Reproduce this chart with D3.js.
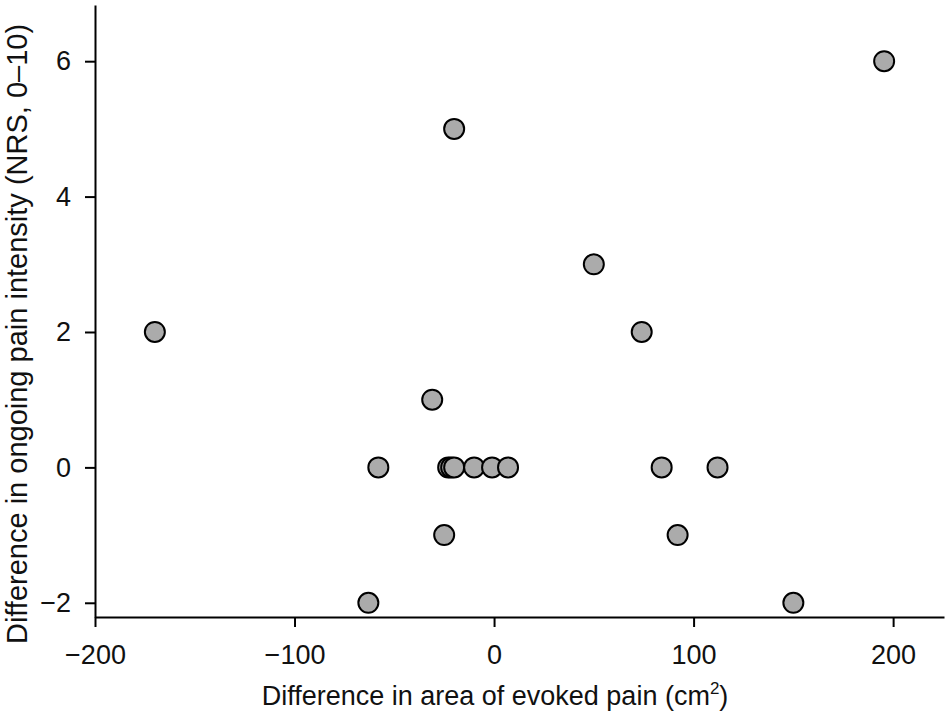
<!DOCTYPE html>
<html>
<head>
<meta charset="utf-8">
<script src="https://cdn.jsdelivr.net/npm/d3@7"></script>
<style>
  body { margin: 0; background: #fff; }
  svg { font-family: "Liberation Sans", Arial, sans-serif; }
</style>
</head>
<body>
<svg width="946" height="727"></svg>
<script>
// area difference (cm2) and ongoing pain difference (NRS)
var areaDiff = [-170, -63, -58, -31, -25, -23, -21.5, -20, -20, -10, -1, 7, 50, 74, 84, 92, 112, 150, 195.5];
var painDiff = [2, -2, 0, 1, -1, 0, 0, 0, 5, 0, 0, 0, 3, 2, 0, -1, 0, -2, 6];
var xTicks = [-200, -100, 0, 100, 200];
var yTicks = [-2, 0, 2, 4, 6];

var svg = d3.select("svg");

var x = d3.scaleLinear().domain([-200, 225.5]).range([95, 944]);
var y = d3.scaleLinear().domain([-2.21, 6.83]).range([617, 5]);

var xAxis = svg.append("g")
    .attr("transform", "translate(0,617)")
    .call(d3.axisBottom(x).tickValues(xTicks).tickSize(10).tickPadding(18).tickSizeOuter(0));
var yAxis = svg.append("g")
    .attr("transform", "translate(95,0)")
    .call(d3.axisLeft(y).tickValues(yTicks).tickSize(10).tickPadding(14).tickSizeOuter(0));

[xAxis, yAxis].forEach(function(g) {
    g.select(".domain").attr("stroke", "#000").attr("stroke-width", 2);
    g.selectAll(".tick line").attr("stroke", "#000").attr("stroke-width", 2);
    g.selectAll(".tick text")
        .attr("font-family", "Liberation Sans, Arial, sans-serif")
        .attr("font-size", 27)
        .attr("fill", "#111");
});

var pts = areaDiff.map(function(d, i) { return { a: d, p: painDiff[i] }; });

svg.append("g")
    .selectAll("circle")
    .data(pts)
    .enter()
    .append("circle")
    .attr("cx", function(d) { return x(d.a); })
    .attr("cy", function(d) { return y(d.p); })
    .attr("r", 10)
    .style("fill", "#ababab")
    .style("stroke", "#000")
    .style("stroke-width", 2);

var xt = svg.append("text")
    .attr("x", 495)
    .attr("y", 705)
    .attr("text-anchor", "middle")
    .attr("font-size", 27)
    .attr("fill", "#111");
xt.append("tspan").text("Difference in area of evoked pain (cm");
xt.append("tspan").attr("font-size", 17).attr("dy", -11).text("2");
xt.append("tspan").attr("dy", 11).text(")");

svg.append("text")
    .attr("transform", "translate(27,334) rotate(-90)")
    .attr("text-anchor", "middle")
    .attr("font-size", 29)
    .attr("fill", "#111")
    .text("Difference in ongoing pain intensity (NRS, 0\u201310)");
</script>
</body>
</html>
